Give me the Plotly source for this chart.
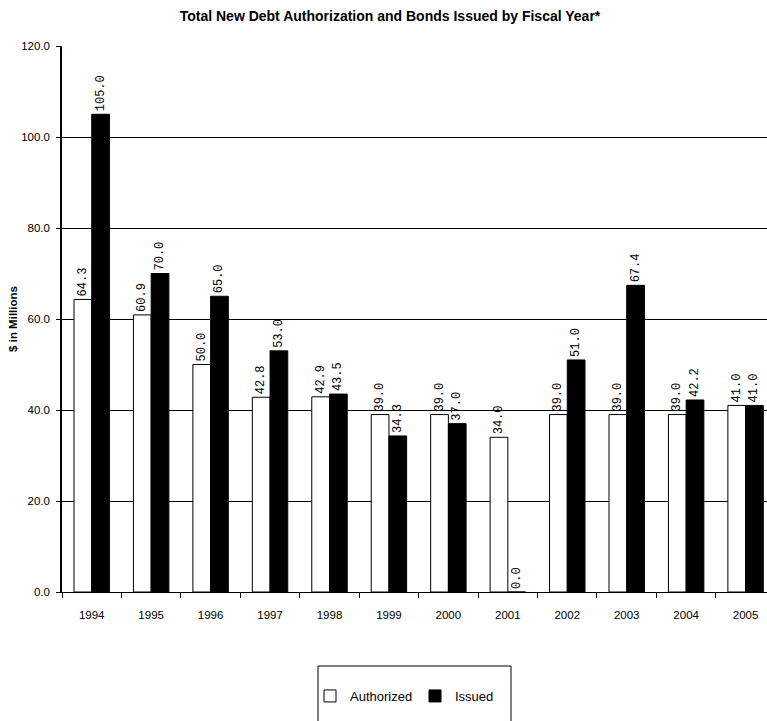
import plotly.graph_objects as go

years = ["1994", "1995", "1996", "1997", "1998", "1999", "2000",
         "2001", "2002", "2003", "2004", "2005"]
authorized = [64.3, 60.9, 50.0, 42.8, 42.9, 39.0, 39.0, 34.0, 39.0, 39.0, 39.0, 41.0]
issued = [105.0, 70.0, 65.0, 53.0, 43.5, 34.3, 37.0, 0.0, 51.0, 67.4, 42.2, 41.0]

SANS = "Liberation Sans, Arial, sans-serif"
LABEL_FONT = dict(family="Liberation Mono, DejaVu Sans Mono, monospace", size=12, color="black")


def bar_trace(values, name, fill):
    return go.Bar(
        x=years, y=values, name=name,
        marker=dict(color=fill, line=dict(color="black", width=1)),
        texttemplate="%{y:.1f}", textposition="outside", textangle=-90,
        constraintext="none", textfont=LABEL_FONT, cliponaxis=False,
    )


fig = go.Figure([bar_trace(authorized, "Authorized", "white"),
                 bar_trace(issued, "Issued", "black")])

fig.update_layout(
    width=767, height=721,
    margin=dict(l=62, r=0, t=46, b=129),
    paper_bgcolor="white", plot_bgcolor="white",
    barmode="group", bargap=0.404, bargroupgap=0,
    font=dict(family=SANS, size=11, color="black"),
    title=dict(
        text="<b>Total New Debt Authorization and Bonds Issued by Fiscal Year*</b>",
        x=390 / 767, xref="container", xanchor="center",
        y=1 - 16 / 721, yref="container", yanchor="middle",
        font=dict(family=SANS, size=14, color="black"),
    ),
    showlegend=True,
    legend=dict(
        orientation="h", x=(310 - 62) / 705, xanchor="left", xref="paper",
        y=(592 - 696) / 546, yanchor="middle", yref="paper",
        font=dict(family=SANS, size=13, color="black"),
        bgcolor="rgba(0,0,0,0)", borderwidth=0,
        itemwidth=30, entrywidth=60, itemclick=False, itemdoubleclick=False,
    ),
    shapes=[dict(
        type="rect", xref="paper", yref="paper",
        x0=(318 - 62) / 705, x1=(511 - 62) / 705,
        y0=(592 - 730) / 546, y1=(592 - 666) / 546,
        line=dict(color="black", width=1), fillcolor="rgba(0,0,0,0)",
    )],
    xaxis=dict(
        type="category", range=[-0.5, 11.36],
        showline=True, linecolor="black", linewidth=1,
        ticks="outside", tickson="boundaries", ticklen=5, tickcolor="black",
        showgrid=False, tickfont=dict(family=SANS, size=11.5),
        ticklabelstandoff=12,
    ),
    yaxis=dict(
        range=[0, 120], dtick=20, tickformat=".1f",
        showline=True, linecolor="black", linewidth=1.5,
        ticks="outside", ticklen=4, tickcolor="black",
        showgrid=True, gridcolor="black", gridwidth=1,
        zeroline=False, tickfont=dict(family=SANS, size=11.5),
        ticklabelstandoff=4,
        title=dict(text="<b>$ in Millions</b>", standoff=1,
                   font=dict(family=SANS, size=11.5)),
    ),
)

fig.write_html("out.html")
